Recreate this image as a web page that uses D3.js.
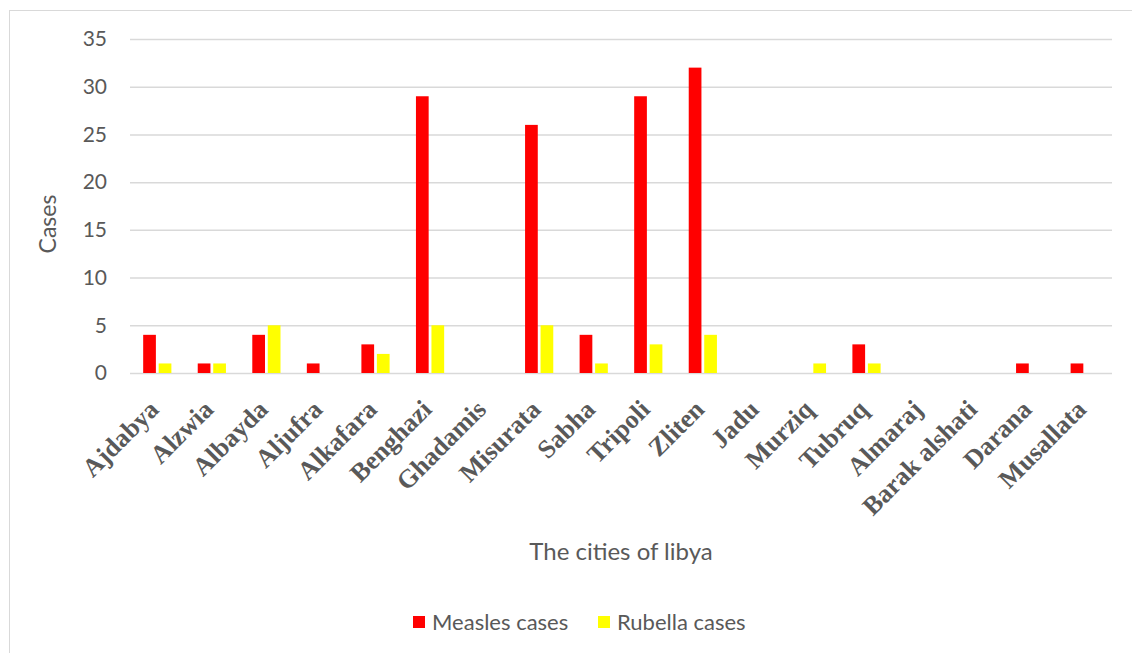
<!DOCTYPE html>
<html><head><meta charset="utf-8">
<script src="https://cdn.jsdelivr.net/npm/d3@7"></script>
<style>
html,body{margin:0;padding:0;background:#fff;}
svg{display:block;}
</style></head>
<body>
<svg id="chart" width="1132" height="653"></svg>
<script>
const cities = ["Ajdabya","Alzwia","Albayda","Aljufra","Alkafara","Benghazi","Ghadamis","Misurata","Sabha","Tripoli","Zliten","Jadu","Murziq","Tubruq","Almaraj","Barak alshati","Darana","Musallata"];
const measles = [4,1,4,1,3,29,0,26,4,29,32,0,0,3,0,0,1,1];
const rubella = [1,1,5,0,2,5,0,5,1,3,4,0,1,1,0,0,0,0];
const seriesNames = ["Measles cases","Rubella cases"];
const seriesColors = ["#ff0000","#ffff00"];
const yTicks = [0,5,10,15,20,25,30,35];

const svg = d3.select("#chart");
const W = 1132, H = 653;
const m = {left:130, right:W-1112, top:39, bottom:H-373};
const sans = "Lato, 'Open Sans', sans-serif";
const grey = "#595959";

// chart frame
svg.append("rect").attr("x",9.5).attr("y",10.5).attr("width",1140).attr("height",700)
  .attr("fill","#fff").attr("stroke","#d9d9d9").attr("stroke-width",1);

const x = d3.scaleBand().domain(cities).range([m.left, W-m.right]).paddingInner(0).paddingOuter(0);
const y = d3.scaleLinear().domain([0,35]).range([H-m.bottom, m.top]);
const inner = d3.scaleBand().domain(seriesNames).range([0, x.bandwidth()]).paddingInner(0.18).paddingOuter(0.85);

// gridlines
const yAxis = d3.axisLeft(y).tickValues(yTicks).tickSize(-(W-m.left-m.right)).tickPadding(23);
const gy = svg.append("g").attr("transform",`translate(${m.left},0)`).call(yAxis);
gy.select(".domain").remove();
gy.selectAll(".tick line").attr("stroke","#d9d9d9").attr("stroke-width",1.5);
gy.selectAll(".tick text").attr("fill",grey).attr("font-family",sans).attr("font-size",21);

// bars
const data = cities.map((c,i)=>({city:c, vals:[measles[i], rubella[i]]}));
const groups = svg.append("g").selectAll("g").data(data).join("g")
  .attr("transform", d=>`translate(${x(d.city)},0)`);
groups.selectAll("rect").data(d=>d.vals.map((v,j)=>({v, s:seriesNames[j], c:seriesColors[j]})))
  .join("rect")
  .attr("x", d=>inner(d.s))
  .attr("width", inner.bandwidth())
  .attr("y", d=>y(d.v))
  .attr("height", d=>y(0)-y(d.v))
  .attr("fill", d=>d.c);

// x axis labels
const xAxis = d3.axisBottom(x).tickSize(0).tickPadding(0);
const gx = svg.append("g").attr("transform",`translate(0,${y(0)})`).call(xAxis);
gx.select(".domain").remove();
gx.selectAll(".tick text")
  .attr("fill",grey)
  .attr("font-family","'Liberation Serif', 'Times New Roman', serif")
  .attr("font-weight","bold")
  .attr("font-size",26)
  .attr("text-anchor","end")
  .attr("dy",null)
  .attr("y",null)
  .attr("transform","translate(3,38) rotate(-45)");

// axis titles
svg.append("text").attr("transform","translate(56,224) rotate(-90)")
  .attr("text-anchor","middle").attr("fill",grey).attr("font-family",sans).attr("font-size",23)
  .text("Cases");
svg.append("text").attr("x",621).attr("y",560)
  .attr("text-anchor","middle").attr("fill",grey).attr("font-family",sans).attr("font-size",24)
  .text("The cities of libya");

// legend
const legX = [413, 598];
const leg = svg.append("g");
seriesNames.forEach((n,i)=>{
  leg.append("rect").attr("x",legX[i]).attr("y",616).attr("width",12).attr("height",12).attr("fill",seriesColors[i]);
  leg.append("text").attr("x",legX[i]+19).attr("y",630).attr("fill",grey)
    .attr("font-family",sans).attr("font-size",22).text(n);
});
</script>
</body></html>
